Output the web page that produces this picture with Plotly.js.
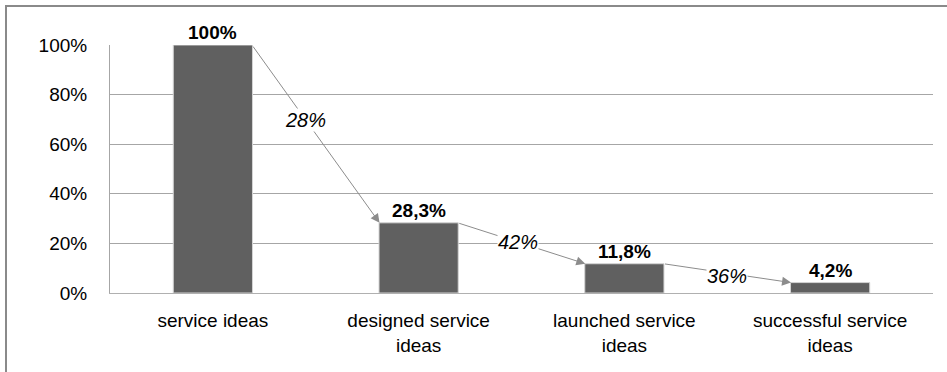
<!DOCTYPE html>
<html>
<head>
<meta charset="utf-8">
<script src="https://cdn.plot.ly/plotly-3.0.1.min.js"></script>
<style>
  html, body { margin: 0; padding: 0; background: #fff; }
  #wrap { position: relative; width: 947px; height: 372px; overflow: hidden; }
  #frame { position: absolute; left: 5px; top: 5px; width: 1000px; height: 500px;
           border-top: 2px solid #8a8a8a; border-left: 2px solid #8a8a8a; }
  #chart { position: absolute; left: 0; top: 0; width: 947px; height: 372px; }
</style>
</head>
<body>
<div id="wrap">
  <div id="frame"></div>
  <div id="chart"></div>
</div>
<script>
// Data
const categories = ["service ideas", "designed service<br>ideas", "launched service<br>ideas", "successful service<br>ideas"];
const values = [100, 28.3, 11.8, 4.2];
const valueLabels = ["100%", "28,3%", "11,8%", "4,2%"];
const rateLabels = ["28%", "42%", "36%"];
const tickValues = [0, 20, 40, 60, 80, 100];
const tickLabels = ["0%", "20%", "40%", "60%", "80%", "100%"];

const FONT = "Arial, 'Liberation Sans', sans-serif";
const halfBar = 0.19;
const labelPos = [0.42, 0.47, 0.5];
const labelShift = [0, 0, -3];

const trace = {
  type: "bar",
  x: [0, 1, 2, 3],
  y: values,
  width: 0.385,
  marker: { color: "#606060", line: { color: "#d4d4d4", width: 1 } },
  hoverinfo: "skip"
};

const annotations = [];
values.forEach((v, i) => {
  annotations.push({
    x: i, y: v, xref: "x", yref: "y",
    text: "<b>" + valueLabels[i] + "</b>",
    showarrow: false, yanchor: "bottom", yshift: 0,
    font: { family: FONT, size: 19, color: "#000" }
  });
});
for (let i = 0; i < values.length - 1; i++) {
  const x0 = i + halfBar, y0 = values[i];
  const x1 = i + 1 - halfBar, y1 = values[i + 1];
  annotations.push({
    x: x1, y: y1, xref: "x", yref: "y",
    ax: x0, ay: y0, axref: "x", ayref: "y",
    text: "", showarrow: true,
    arrowhead: 2, arrowsize: 1.8, arrowwidth: 1, arrowcolor: "#8c8c8c",
    standoff: 0, startstandoff: 0
  });
}
for (let i = 0; i < values.length - 1; i++) {
  const x0 = i + halfBar, y0 = values[i];
  const x1 = i + 1 - halfBar, y1 = values[i + 1];
  const t = labelPos[i];
  annotations.push({
    x: x0 + (x1 - x0) * t, y: y0 + (y1 - y0) * t, xref: "x", yref: "y",
    text: rateLabels[i], showarrow: false, yshift: labelShift[i],
    bgcolor: "#ffffff", borderpad: 0,
    font: { family: FONT, size: 20, color: "#000", style: "italic" }
  });
}

const layout = {
  width: 947, height: 372,
  margin: { l: 110, r: 14, t: 45, b: 79 },
  paper_bgcolor: "rgba(0,0,0,0)",
  plot_bgcolor: "#ffffff",
  showlegend: false,
  bargap: 0.615,
  font: { family: FONT, size: 19, color: "#000" },
  xaxis: {
    range: [-0.5, 3.5],
    tickvals: [0, 1, 2, 3],
    ticktext: categories,
    showgrid: false, zeroline: false,
    showline: true, linecolor: "#b0b0b0", linewidth: 1,
    ticks: "", ticklabelstandoff: 10,
    tickfont: { family: FONT, size: 19, color: "#000" }
  },
  yaxis: {
    range: [0, 100],
    tickvals: tickValues,
    ticktext: tickLabels,
    showgrid: true, gridcolor: "#a6a6a6", gridwidth: 1,
    zeroline: false,
    showline: true, linecolor: "#a6a6a6", linewidth: 1,
    ticks: "", ticklabelstandoff: 18,
    tickfont: { family: FONT, size: 19, color: "#000" }
  },
  annotations: annotations
};

Plotly.newPlot("chart", [trace], layout, { displayModeBar: false, staticPlot: true });
</script>
</body>
</html>
